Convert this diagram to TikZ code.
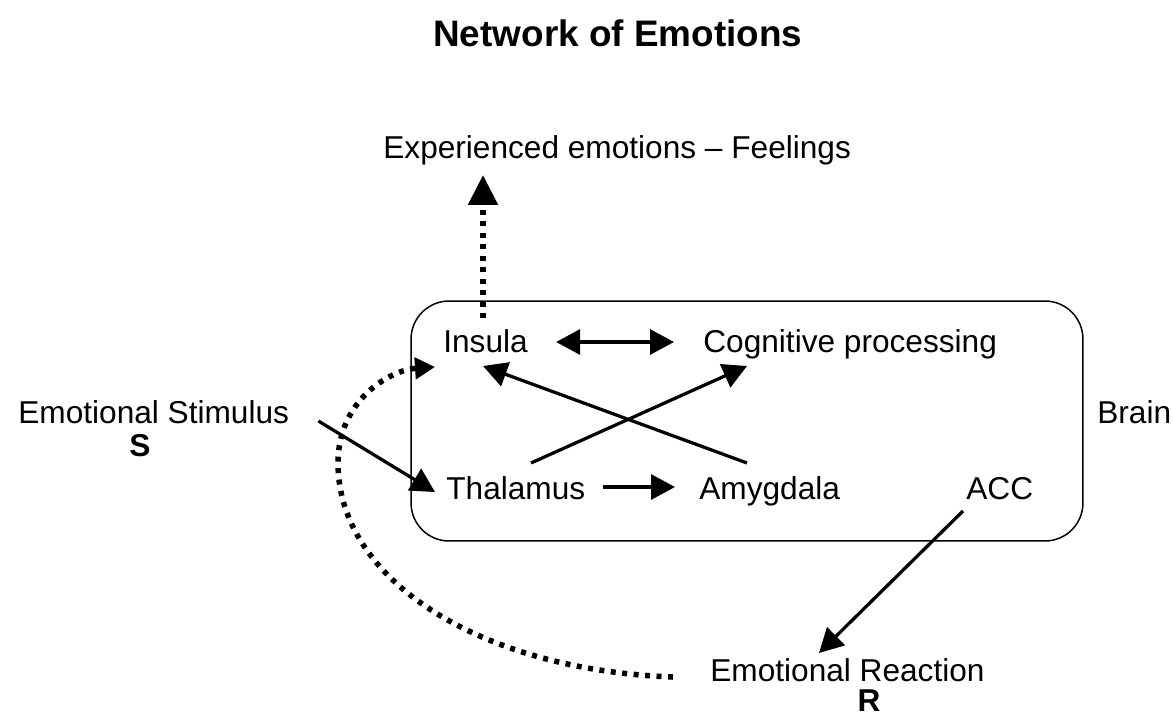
\documentclass[tikz,border=0pt]{standalone}
\usepackage{fontspec}
\setmainfont{Liberation Sans}
\usetikzlibrary{arrows.meta,calc}
\begin{document}
\begin{tikzpicture}[x=0.02cm,y=-0.02cm,
    lbl/.style={inner sep=0pt,anchor=base west,font=\fontsize{18}{22}\selectfont},
    arr/.style={line width=0.065cm,-{Triangle[length=0.48cm,width=0.5cm]}},
    dots/.style={line width=0.11cm,dash pattern=on 0.1cm off 0.13cm}]
\useasboundingbox (0,0) rectangle (1173,717);
%title
        \node[lbl,font=\fontsize{21}{25}\selectfont\bfseries] (title) at (433,46) {Network of Emotions};
        \node[lbl] (exp) at (383,158) {Experienced emotions -- Feelings};
%brain
        \node[draw,line width=0.03cm,rounded corners=0.76cm,minimum width=13.44cm,minimum height=4.8cm] (box) at (747,421) {};
        \node[lbl] (brain) at (1097,423) {Brain};
        \node[lbl] (insula) at (443,352) {Insula};
        \node[lbl] (cog) at (703,352) {Cognitive processing};
        \node[lbl] (thal) at (446,499) {Thalamus};
        \node[lbl] (amyg) at (699,499) {Amygdala};
        \node[lbl] (acc) at (966,499) {ACC};
%stimulus and reaction
        \node[lbl] (stim) at (18,423) {Emotional Stimulus};
        \node[lbl,anchor=base,font=\fontsize{18}{22}\selectfont\bfseries] (s) at (140,456) {S};
        \node[lbl] (react) at (710,681) {Emotional Reaction};
        \node[lbl,anchor=base,font=\fontsize{18}{22}\selectfont\bfseries] (r) at (869,711) {R};
%arrows
        \draw [line width=0.065cm,{Triangle[length=0.48cm,width=0.5cm]}-{Triangle[length=0.48cm,width=0.5cm]}] ($(insula.base east)+(28,-10)$) -- ($(cog.base west)+(-29,-10)$);
        \draw [arr] ($(thal.base east)+(17,-12)$) -- ($(amyg.base west)+(-24,-12)$);
        \draw [arr] ($(thal.base west)+(85,-36)$) -- ($(cog.base west)+(44,14)$);
        \draw [arr] ($(amyg.base west)+(48,-36)$) -- ($(insula.base west)+(40,14)$);
        \draw [arr] ($(stim.base east)+(29,-2)$) -- ($(thal.base west)+(-11,-7)$);
        \draw [arr] ($(acc.base west)+(-3,12)$) -- ($(react.base west)+(109,-28)$);
        \draw [dots,-{Triangle[length=0.6cm,width=0.58cm]}] ($(insula.base west)+(40,-34)$) -- ($(exp.base west)+(100,17)$);
        \draw [dots,-{Triangle[length=0.4cm,width=0.42cm]}] ($(react.base west)+(-37,-4)$)
            .. controls (480,670) and (338,580) .. (338,463)
            .. controls (338,400) and (390,370) .. ($(insula.base west)+(-8,15)$);
    \end{tikzpicture}
\end{document}
